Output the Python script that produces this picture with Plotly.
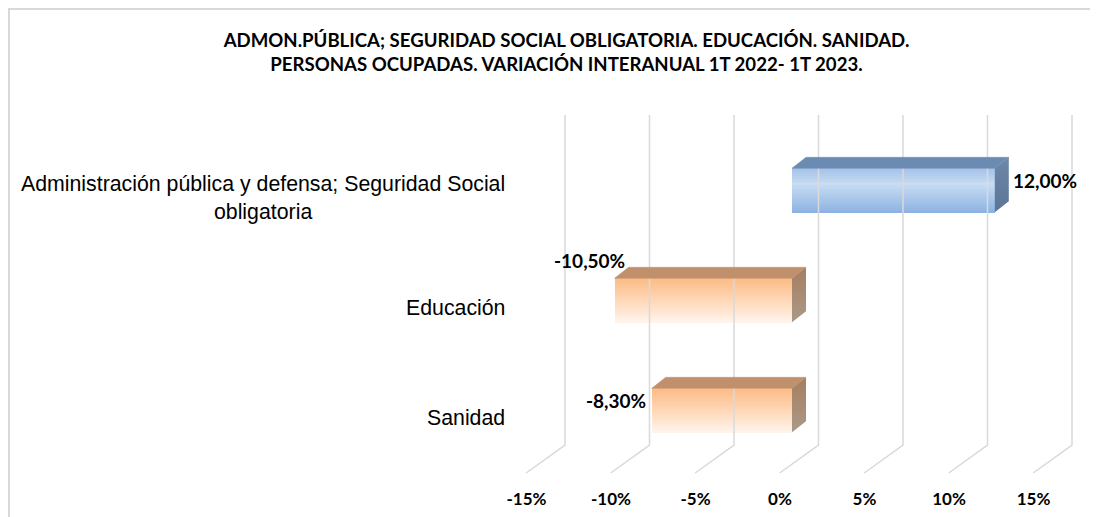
import plotly.graph_objects as go

# ---------------- data ----------------
categories = ["Administración pública y defensa; Seguridad Social<br>obligatoria",
              "Educación", "Sanidad"]
values = [12.00, -10.50, -8.30]
value_labels = ["12,00%", "-10,50%", "-8,30%"]
tick_values = [-15, -10, -5, 0, 5, 10, 15]
tick_labels = ["-15%", "-10%", "-5%", "0%", "5%", "10%", "15%"]
title_text = ("ADMON.PÚBLICA; SEGURIDAD SOCIAL OBLIGATORIA. EDUCACIÓN. SANIDAD.<br>"
              "PERSONAS OCUPADAS. VARIACIÓN INTERANUAL 1T 2022- 1T 2023.")

# ---------------- styling / geometry ----------------
OFF = 8              # page body margin: figure pixel = screen pixel - OFF
W, H = 1098, 517
L, R, T, B = 515 - OFF, 1090 - OFF, 100 - OFF, 480 - OFF
PX_X = 16.9          # pixels per 1 %
ZERO_PX = 792 - OFF  # pixel of 0 % on the bar front plane
PX_Y = 110           # pixels per category step
Y0_PX = 410.3 - OFF  # pixel of the lowest category centre
x_range = [(L - ZERO_PX) / PX_X, (R - ZERO_PX) / PX_X]
y_range = [(Y0_PX - B) / PX_Y, (Y0_PX - T) / PX_Y]

positions = list(range(len(values)))[::-1]   # first category on top
BAR_W = 0.4
DX = 14 / PX_X       # depth offset (x) in data units
DY = 11 / PX_Y       # depth offset (y) in data units
WALL_DX = 26.5 / PX_X
FRONT_DX = -12.3 / PX_X
WALL_TOP = (Y0_PX - (115 - OFF)) / PX_Y
WALL_BOT = (Y0_PX - (445 - OFF)) / PX_Y
FLOOR_FRONT = (Y0_PX - (473 - OFF)) / PX_Y

GRID = "#d9d9d9"
front_scales = {
    "pos": [(0, "#a5c2e9"), (0.35, "#c8dcf2"), (1, "#8cb2e2")],
    "neg": [(0, "#fcbc86"), (0.5, "#fed8b8"), (1, "#fff5ee")],
}
top_colors = {"pos": "#6c8bb3", "neg": "#c0906c"}
side_scales = {"pos": ("#6d88a9", "#5c7496"), "neg": ("#a67e5f", "#aa9988")}


def hex2rgb(h):
    h = h.lstrip("#")
    return tuple(int(h[i:i + 2], 16) for i in (0, 2, 4))


def interp(scale, t):
    for (t0, c0), (t1, c1) in zip(scale[:-1], scale[1:]):
        if t0 <= t <= t1:
            f = (t - t0) / (t1 - t0) if t1 > t0 else 0
            a, b = hex2rgb(c0), hex2rgb(c1)
            return "rgb(%d,%d,%d)" % tuple(round(a[k] + (b[k] - a[k]) * f) for k in range(3))
    return scale[-1][1]


fig = go.Figure()

# back wall grid + floor diagonals
gx, gy = [], []
for t in tick_values:
    gx += [t + WALL_DX, t + WALL_DX, t + FRONT_DX, None]
    gy += [WALL_TOP, WALL_BOT, FLOOR_FRONT, None]
fig.add_trace(go.Scatter(x=gx, y=gy, mode="lines", line=dict(color=GRID, width=1.5),
                         hoverinfo="skip", showlegend=False))

# top and side faces
for v, p in zip(values, positions):
    kind = "pos" if v >= 0 else "neg"
    yt = p + BAR_W / 2
    yb = p - BAR_W / 2
    x0, x1 = min(0, v), max(0, v)
    fig.add_trace(go.Scatter(
        x=[x0, x1, x1 + DX, x0 + DX, x0], y=[yt, yt, yt + DY, yt + DY, yt],
        fill="toself", fillcolor=top_colors[kind], mode="lines",
        line=dict(color=top_colors[kind], width=0.5), hoverinfo="skip", showlegend=False))
    top_c, bot_c = side_scales[kind]
    fig.add_trace(go.Scatter(
        x=[x1, x1, x1 + DX, x1 + DX, x1], y=[yb, yt, yt + DY, yb + DY, yb],
        fill="toself", mode="lines", line=dict(width=0),
        fillgradient=dict(type="vertical", colorscale=[[0, bot_c], [1, top_c]],
                          start=yb, stop=yt + DY),
        hoverinfo="skip", showlegend=False))

# front faces: bars drawn in thin slices to imitate the vertical gradient
N = 30
h = BAR_W / N
for i in range(N):
    t = 1 - (i + 0.5) / N
    cols = [interp(front_scales["pos" if v >= 0 else "neg"], t) for v in values]
    fig.add_trace(go.Bar(
        x=values, y=positions, orientation="h", base=0,
        offset=-BAR_W / 2 + i * h, width=h * 1.25 if i < N - 1 else h,
        marker=dict(color=cols, line=dict(width=0)),
        hoverinfo="x+y", showlegend=False))

# value labels
label_pos = [
    dict(xanchor="left", xshift=16, yshift=10),
    dict(xanchor="center", xshift=-25.5, yshift=39.5),
    dict(xanchor="right", xshift=-4, yshift=10),
]
for v, p, txt, lp in zip(values, positions, value_labels, label_pos):
    fig.add_annotation(x=v, y=p, xref="x", yref="y", text="<b>%s</b>" % txt,
                       showarrow=False, yanchor="middle",
                       font=dict(family="Lato", size=19, color="#000000"), **lp)

# category labels
for c, p in zip(categories, positions):
    fig.add_annotation(x=0, y=p, xref="paper", yref="y", text=c, showarrow=False,
                       xanchor="right", yanchor="middle", align="center", xshift=-8, yshift=-8,
                       font=dict(family="Liberation Sans, Arial", size=21.3, color="#000000"))

# outer chart border (extends beyond right/bottom edges)
pw, ph = R - L, B - T
fig.add_shape(type="rect", xref="paper", yref="paper",
              x0=(1 - L) / pw, x1=(W + 20 - L) / pw,
              y0=(B - (H + 20)) / ph, y1=(B - 1) / ph,
              line=dict(color="#d9d9d9", width=2), fillcolor="rgba(0,0,0,0)", layer="below")

fig.update_layout(
    width=W, height=H, autosize=False,
    margin=dict(l=L, r=W - R, t=T, b=H - B, pad=0),
    paper_bgcolor="white", plot_bgcolor="rgba(0,0,0,0)",
    barmode="overlay", bargap=0,
    title=dict(text="<b>%s</b>" % title_text, x=(566.5 - OFF) / W, xanchor="center",
               y=1 - (47 - OFF) / H, yanchor="top", yref="container",
               font=dict(family="Lato", size=18.6, color="#000000")),
    xaxis=dict(range=x_range, tickvals=tick_values,
               ticktext=["<b>%s</b>" % s for s in tick_labels],
               showgrid=False, zeroline=False, showline=False, ticks="",
               ticklabelshift=-12, ticklabelstandoff=7,
               tickfont=dict(family="Lato", size=17, color="#000000"),
               fixedrange=True),
    yaxis=dict(range=y_range, visible=False, fixedrange=True),
    font=dict(family="Lato"),
)

fig.write_html("out.html")
